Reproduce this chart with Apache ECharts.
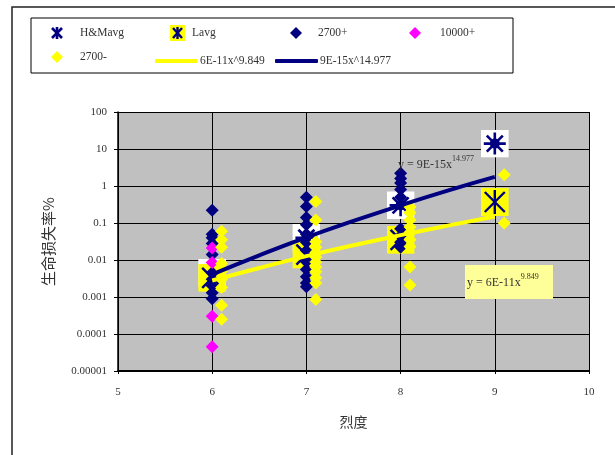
<!DOCTYPE html>
<html><head><meta charset="utf-8">
<script src="https://cdn.jsdelivr.net/npm/echarts@6/dist/echarts.min.js"></script>
<style>html,body{margin:0;padding:0;background:#fff}#c{width:615px;height:455px}</style>
</head><body><div id="c"></div>
<script>
// ---- data ----
const xTickLabels = ['5', '6', '7', '8', '9', '10'];
const yTickLabels = ['0.00001', '0.0001', '0.001', '0.01', '0.1', '1', '10', '100'];

const hmAvg = [[6, 0.0045], [7, 0.04], [8, 0.3], [9, 14]];
const lAvg = [[6, 0.0033], [7, 0.014], [8, 0.035], [9, 0.37]];
const plus2700 = [
  [6, 0.22], [6, 0.05], [6, 0.04], [6, 0.028], [6, 0.014], [6, 0.0045], [6, 0.003], [6, 0.002], [6, 0.0013], [6, 0.0009],
  [7, 0.5], [7, 0.28], [7, 0.14], [7, 0.09], [7, 0.05], [7, 0.03], [7, 0.018], [7, 0.009], [7, 0.0055], [7, 0.0035], [7, 0.0024], [7, 0.0019],
  [8, 2.2], [8, 1.6], [8, 1.2], [8, 0.8], [8, 0.5], [8, 0.07], [8, 0.045], [8, 0.03], [8, 0.022]
];
const plus10000 = [[6, 0.021], [6, 0.0085], [6, 0.0003], [6, 0.000045]];
const minus2700 = [
  [6.1, 0.06], [6.1, 0.035], [6.1, 0.022], [6.1, 0.008], [6.1, 0.005], [6.1, 0.003], [6.1, 0.0018], [6.1, 0.0006], [6.1, 0.00025],
  [7.1, 0.38], [7.1, 0.12], [7.1, 0.031], [7.1, 0.022], [7.1, 0.016], [7.1, 0.012], [7.1, 0.0088], [7.1, 0.0065], [7.1, 0.0048], [7.1, 0.0033], [7.1, 0.0024], [7.1, 0.00085],
  [8.1, 0.27], [8.1, 0.19], [8.1, 0.12], [8.1, 0.078], [8.1, 0.054], [8.1, 0.035], [8.1, 0.023], [8.1, 0.0065], [8.1, 0.0021],
  [9.1, 2.0], [9.1, 0.1]
];
const trendX = [6, 6.5, 7, 7.5, 8, 8.5, 9];
const trendYellow = [0.0028, 0.0061, 0.0127, 0.025, 0.047, 0.085, 0.15];
const trendNavy = [0.0041, 0.0134, 0.041, 0.114, 0.30, 0.75, 1.76];

const seriesNames = ['H&Mavg', 'Lavg', '2700+', '10000+', '2700-', '6E-11x^9.849', '9E-15x^14.977'];

// ---- symbols ----
const NAVY = '#000080', YEL = '#FFFF00', MAG = '#FF00FF';
function svgUrl(s) { return 'image://data:image/svg+xml;charset=utf-8,' + encodeURIComponent(s); }
const hmSym = svgUrl('<svg xmlns="http://www.w3.org/2000/svg" width="28" height="28" viewBox="0 0 28 28"><rect width="28" height="28" fill="#fff"/><g stroke="' + NAVY + '" stroke-width="2.6"><line x1="14" y1="3" x2="14" y2="25"/><line x1="6" y1="6" x2="22" y2="22"/><line x1="22" y1="6" x2="6" y2="22"/><line x1="3" y1="14" x2="25" y2="14"/></g><circle cx="14" cy="14" r="5" fill="' + NAVY + '"/></svg>');
const lSym = svgUrl('<svg xmlns="http://www.w3.org/2000/svg" width="28" height="28" viewBox="0 0 28 28"><rect width="28" height="28" fill="' + YEL + '"/><g stroke="' + NAVY + '" stroke-width="2.4"><line x1="14" y1="2" x2="14" y2="26"/><line x1="4" y1="4" x2="24" y2="24"/><line x1="24" y1="4" x2="4" y2="24"/></g></svg>');
const hmLegSym = svgUrl('<svg xmlns="http://www.w3.org/2000/svg" width="14" height="14" viewBox="0 0 14 14"><g stroke="' + NAVY + '" stroke-width="2.6"><line x1="7" y1="1" x2="7" y2="13"/><line x1="2" y1="2" x2="12" y2="12"/><line x1="12" y1="2" x2="2" y2="12"/></g></svg>');
const lLegSym = svgUrl('<svg xmlns="http://www.w3.org/2000/svg" width="15" height="16" viewBox="0 0 15 16"><rect width="15" height="16" fill="' + YEL + '"/><g stroke="' + NAVY + '" stroke-width="2.4"><line x1="7.5" y1="2" x2="7.5" y2="14"/><line x1="3" y1="3" x2="12" y2="13"/><line x1="12" y1="3" x2="3" y2="13"/></g></svg>');

const SERIF = 'Liberation Serif';
const legText = { fontFamily: SERIF, fontSize: 11.5, color: '#333' };

function leg(name, left, top, w, h, pad, icon) {
  const d = { name: name };
  if (icon) d.icon = icon;
  return {
    data: [d], left: left, top: top, padding: 0, itemWidth: w, itemHeight: h,
    selectedMode: false,
    textStyle: Object.assign({ padding: [0, 0, 0, pad] }, legText)
  };
}

const chart = echarts.init(document.getElementById('c'), null, { renderer: 'canvas' });
chart.setOption({
  animation: false,
  backgroundColor: '#fff',
  grid: { left: 118, top: 112, right: 26, bottom: 84, show: true, backgroundColor: '#C0C0C0', borderWidth: 0 },
  legend: [
    leg(seriesNames[0], 50, 26, 14, 14, 11, hmLegSym),
    leg(seriesNames[1], 170, 25, 15, 16, 2, lLegSym),
    leg(seriesNames[2], 290, 27, 12, 12, 11, 'diamond'),
    leg(seriesNames[3], 409, 27, 12, 12, 14, 'diamond'),
    leg(seriesNames[4], 51, 51, 12, 12, 12, 'diamond'),
    leg(seriesNames[5], 155, 55, 42, 4, -2, 'rect'),
    leg(seriesNames[6], 275, 55, 43, 4, -3, 'roundRect')
  ],
  xAxis: {
    type: 'value', min: 5, max: 10, interval: 1,
    name: '烈度', nameLocation: 'middle', nameGap: 44,
    nameTextStyle: { fontFamily: 'Noto Sans CJK SC', fontSize: 14, color: '#333' },
    axisLine: { lineStyle: { color: '#000', width: 2 } },
    axisTick: { show: true, length: 3, lineStyle: { color: '#000' } },
    splitLine: { show: true, lineStyle: { color: '#000', width: 1 } },
    axisLabel: { margin: 16, fontFamily: SERIF, fontSize: 11, color: '#333',
      formatter: v => xTickLabels[Math.round(v) - 5] }
  },
  yAxis: {
    type: 'log', logBase: 10, min: 0.00001, max: 100, splitNumber: 7,
    name: '生命损失率%', nameLocation: 'middle', nameGap: 62, nameRotate: 90,
    nameTextStyle: { fontFamily: 'Noto Sans CJK SC', fontSize: 15, color: '#333' },
    axisLine: { show: true, lineStyle: { color: '#000', width: 1.5 } },
    axisTick: { show: true, length: 4, lineStyle: { color: '#000' } },
    splitLine: { show: true, lineStyle: { color: '#000', width: 1 } },
    minorTick: { show: false }, minorSplitLine: { show: false },
    axisLabel: { margin: 11, fontFamily: SERIF, fontSize: 11, color: '#333',
      formatter: v => yTickLabels[Math.round(Math.log10(v)) + 5] }
  },
  series: [
    { name: seriesNames[0], type: 'scatter', data: hmAvg, symbol: hmSym, symbolSize: 28, itemStyle: { opacity: 1 } },
    { name: seriesNames[1], type: 'scatter', data: lAvg, symbol: lSym, symbolSize: 28, itemStyle: { opacity: 1 } },
    { name: seriesNames[2], type: 'scatter', data: plus2700, symbol: 'diamond', symbolSize: 13, itemStyle: { color: NAVY, opacity: 1 } },
    { name: seriesNames[3], type: 'scatter', data: plus10000, symbol: 'diamond', symbolSize: 13, itemStyle: { color: MAG, opacity: 1 } },
    { name: seriesNames[4], type: 'scatter', data: minus2700, symbol: 'diamond', symbolSize: 13, itemStyle: { color: YEL, opacity: 1 } },
    { name: seriesNames[5], type: 'line', data: trendX.map((x, i) => [x, trendYellow[i]]), smooth: true, symbol: 'none',
      lineStyle: { color: YEL, width: 4 }, itemStyle: { color: YEL } },
    { name: seriesNames[6], type: 'line', data: trendX.map((x, i) => [x, trendNavy[i]]), smooth: true, symbol: 'none',
      lineStyle: { color: NAVY, width: 4 }, itemStyle: { color: NAVY } }
  ],
  graphic: [
    { type: 'rect', z: 100, silent: true, shape: { x: 12, y: 7, width: 700, height: 600 }, style: { fill: 'none', stroke: '#222', lineWidth: 1.5 } },
    { type: 'rect', z: 100, silent: true, shape: { x: 31, y: 18, width: 482, height: 55 }, style: { fill: 'none', stroke: '#000', lineWidth: 1 } },
    { type: 'text', z: 100, silent: true, x: 398, y: 155,
      style: { text: '{a|y = 9E-15x}{b|14.977}',
        rich: { a: { fontFamily: SERIF, fontSize: 12, fill: '#333', lineHeight: 16, verticalAlign: 'bottom' },
                b: { fontFamily: SERIF, fontSize: 8, fill: '#333', lineHeight: 16, verticalAlign: 'top' } } } },
    { type: 'rect', z: 99, silent: true, shape: { x: 465, y: 265, width: 88, height: 34 }, style: { fill: '#FFFF99', stroke: 'none' } },
    { type: 'text', z: 100, silent: true, x: 467, y: 273,
      style: { text: '{a|y = 6E-11x}{b|9.849}',
        rich: { a: { fontFamily: SERIF, fontSize: 12, fill: '#333', lineHeight: 16, verticalAlign: 'bottom' },
                b: { fontFamily: SERIF, fontSize: 8, fill: '#333', lineHeight: 16, verticalAlign: 'top' } } } }
  ]
});
</script></body></html>
